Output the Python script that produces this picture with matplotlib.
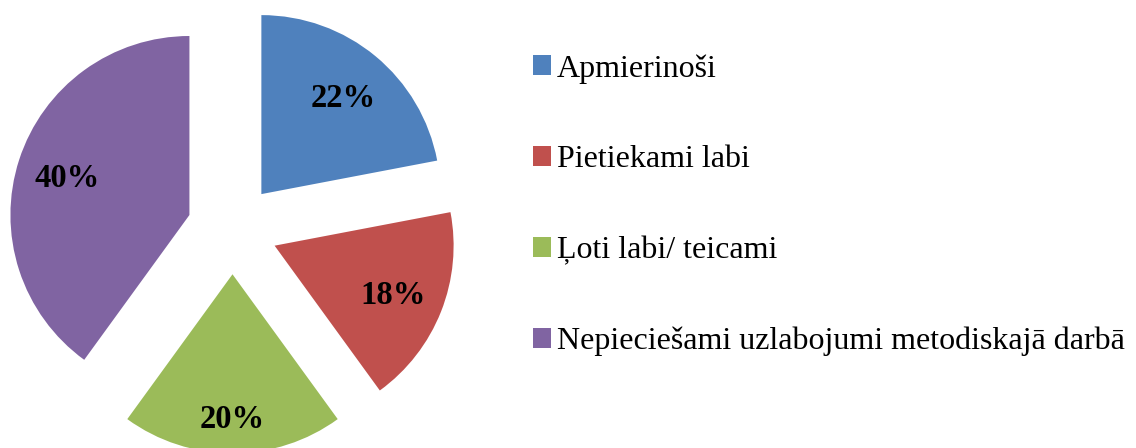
import matplotlib
matplotlib.use('Agg')
import matplotlib.pyplot as plt
from matplotlib.patches import Patch
import numpy as np

labels = ['Apmierinoši', 'Pietiekami labi', 'Ļoti labi/ teicami',
          'Nepieciešami uzlabojumi metodiskajā darbā']
values = [22, 18, 20, 40]
colors = ['#4F81BD', '#C0504D', '#9BBB59', '#8064A2']

plt.rcParams['font.family'] = ['Liberation Serif', 'DejaVu Serif']

W, H = 1136, 448
cx, cy, r = 232.5, 229.0, 179.0   # pie centre and radius in pixels

fig = plt.figure(figsize=(W / 100, H / 100), dpi=100)
ax = fig.add_axes([0, 0, 1, 1])

wedges, texts, autotexts = ax.pie(
    values, colors=colors, startangle=90, counterclock=False,
    explode=[0.253] * 4, radius=1.0, autopct='%1.0f%%', pctdistance=0.72,
    wedgeprops=dict(linewidth=0),
    textprops=dict(fontsize=23.5, fontweight='bold', color='black'))

# pie() resets the limits, so set them afterwards
ax.set_xlim(-cx / r, (W - cx) / r)
ax.set_ylim(-(H - cy) / r, cy / r)
ax.set_aspect('equal')
ax.axis('off')

# Excel pushes the bottom label a bit further out
pct_dist = [0.72, 0.71, 0.79, 0.72]
for w, t, pd_ in zip(wedges, autotexts, pct_dist):
    ang = np.deg2rad((w.theta1 + w.theta2) / 2)
    ccx, ccy = w.center
    t.set_position((ccx + pd_ * np.cos(ang), ccy + pd_ * np.sin(ang)))
    t.set_va('center_baseline')

handles = [Patch(facecolor=c, edgecolor='none') for c in colors]
fig.legend(handles, labels, loc='upper left',
           bbox_to_anchor=(533 / W, 1 - 54 / H), frameon=False,
           fontsize=23, handlelength=0.57, handleheight=0.57,
           handletextpad=0.18, labelspacing=1.93, borderpad=0,
           borderaxespad=0)

fig.savefig('out.png', dpi=100)
